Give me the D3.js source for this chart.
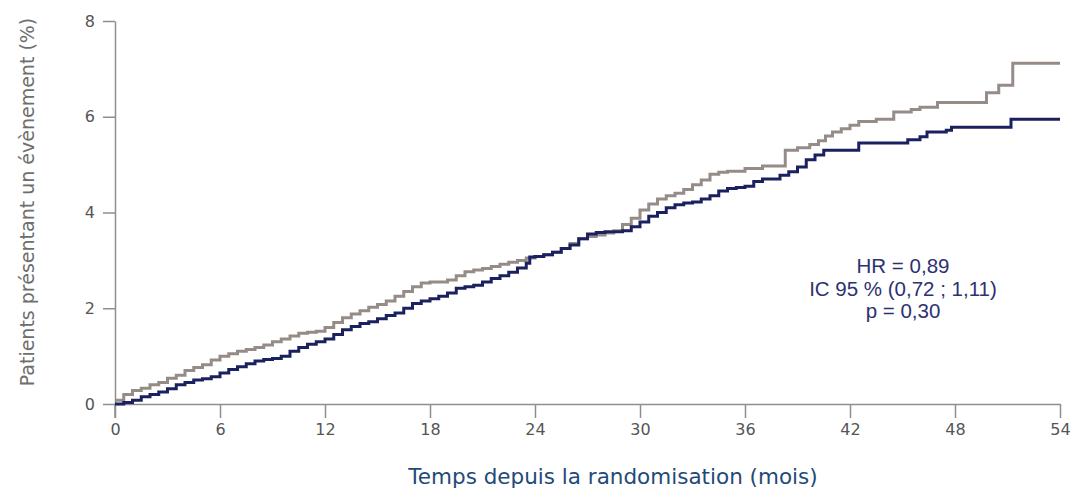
<!DOCTYPE html>
<html><head><meta charset="utf-8">
<script src="https://cdn.jsdelivr.net/npm/d3@7"></script>
<style>body{margin:0;background:#fff}svg{display:block}</style>
</head><body>
<script>
const xTicks = [0,6,12,18,24,30,36,42,48,54];
const yTicks = [0,2,4,6,8];
const grayT = [0,0.5,1,1.5,2,2.5,3,3.5,4,4.5,5,5.5,6,6.5,7,7.5,8,8.5,9,9.5,10,10.5,11,11.5,12,12.5,13,13.5,14,14.5,15,15.5,16,16.5,17,17.5,18,19,19.5,20,20.5,21,21.5,22,22.5,23,23.5,24,24.5,25,25.5,26,26.5,27,27.5,28,28.5,29,29.5,30,30.5,31,31.5,32,32.5,33,33.5,34,34.5,35,36,37,38.3,39,39.7,40.2,40.6,41,41.5,42,42.5,43.5,44.5,45.5,46,47,49.8,50.5,51.3,54];
const grayV = [0.08,0.2,0.28,0.33,0.4,0.45,0.54,0.6,0.7,0.76,0.82,0.92,1.0,1.05,1.1,1.14,1.18,1.23,1.3,1.36,1.42,1.48,1.5,1.52,1.6,1.7,1.8,1.88,1.95,2.02,2.08,2.15,2.25,2.35,2.45,2.53,2.55,2.59,2.68,2.76,2.8,2.83,2.87,2.92,2.96,3.0,3.05,3.08,3.12,3.17,3.25,3.35,3.45,3.5,3.53,3.57,3.62,3.75,3.88,4.05,4.18,4.28,4.35,4.4,4.48,4.58,4.68,4.8,4.84,4.86,4.92,4.97,5.3,5.35,5.42,5.5,5.6,5.68,5.75,5.82,5.9,5.95,6.1,6.15,6.2,6.3,6.5,6.66,7.12,7.12];
const navyT = [0,0.5,1,1.5,2,2.5,3,3.5,4,4.5,5,5.5,6,6.5,7,7.5,8,8.5,9,9.5,10,10.5,11,11.5,12,12.5,13,13.5,14,14.5,15,15.5,16,16.5,17,17.5,18,18.5,19,19.5,20,20.5,21,21.5,22,22.5,23,23.5,23.7,24,24.5,25,25.5,26,26.5,27,27.5,28,28.5,29,29.5,30,30.5,31,31.5,32,32.5,33,33.5,34,34.5,35,35.5,36,36.5,37,38,38.5,39,39.5,40,40.5,42.5,45.3,46,46.4,47.5,47.8,51.2,54];
const navyV = [0.0,0.03,0.08,0.15,0.2,0.25,0.32,0.4,0.45,0.5,0.53,0.57,0.65,0.72,0.78,0.84,0.9,0.93,0.95,1.0,1.1,1.18,1.25,1.3,1.36,1.45,1.55,1.62,1.68,1.72,1.78,1.85,1.9,2.0,2.1,2.15,2.2,2.25,2.32,2.42,2.45,2.48,2.55,2.62,2.68,2.75,2.84,2.94,3.07,3.08,3.12,3.17,3.25,3.32,3.45,3.55,3.58,3.6,3.6,3.62,3.7,3.8,3.92,4.0,4.1,4.16,4.2,4.22,4.28,4.35,4.45,4.5,4.52,4.55,4.65,4.7,4.78,4.85,4.95,5.1,5.2,5.3,5.45,5.52,5.58,5.68,5.72,5.78,5.95,5.95];
const annot = ["HR = 0,89","IC 95 % (0,72 ; 1,11)","p = 0,30"];

const W=1076,H=490;
const svg=d3.select("body").append("svg").attr("width",W).attr("height",H);
const x=d3.scaleLinear().domain([0,54]).range([115,1060]);
const y=d3.scaleLinear().domain([0,8]).range([404,21]);
const axisCol="#8e8e8e";

const gx=svg.append("g").attr("transform","translate(0,404)")
  .call(d3.axisBottom(x).tickValues(xTicks).tickSize(14).tickPadding(6).tickSizeOuter(0));
const gy=svg.append("g").attr("transform","translate(115,0)")
  .call(d3.axisLeft(y).tickValues(yTicks).tickSize(12).tickPadding(8).tickSizeOuter(0));
[gx,gy].forEach(g=>{
  g.select(".domain").attr("stroke",axisCol).attr("stroke-width",1.5);
  g.selectAll(".tick line").attr("stroke",axisCol).attr("stroke-width",1.5);
  g.selectAll(".tick text").attr("fill","#555").attr("font-family","DejaVu Sans").attr("font-size",16);
});
svg.append("line").attr("x1",115).attr("x2",115).attr("y1",y(0)).attr("y2",418).attr("stroke",axisCol).attr("stroke-width",1.5);

const line=d3.line().x(d=>x(d[0])).y(d=>y(d[1])).curve(d3.curveStepAfter);
svg.append("path").datum(grayT.map((t,i)=>[t,grayV[i]])).attr("d",line)
  .attr("fill","none").attr("stroke","#968c87").attr("stroke-width",3);
svg.append("path").datum(navyT.map((t,i)=>[t,navyV[i]])).attr("d",line)
  .attr("fill","none").attr("stroke","#1b205e").attr("stroke-width",3);

svg.append("text").attr("transform","translate(34,202) rotate(-90)").attr("text-anchor","middle")
  .attr("font-family","DejaVu Sans").attr("font-size",19).attr("fill","#6e6e6e")
  .text("Patients présentant un évènement (%)");
svg.append("text").attr("x",613).attr("y",484).attr("text-anchor","middle")
  .attr("font-family","DejaVu Sans").attr("font-size",21.5).attr("fill","#1f4a78")
  .text("Temps depuis la randomisation (mois)");
svg.append("g").selectAll("text").data(annot).join("text")
  .attr("x",903).attr("y",(d,i)=>273+i*22.5).attr("text-anchor","middle")
  .attr("font-family","Liberation Sans").attr("font-size",20.5).attr("fill","#2c3270")
  .text(d=>d);
</script>
</body></html>
